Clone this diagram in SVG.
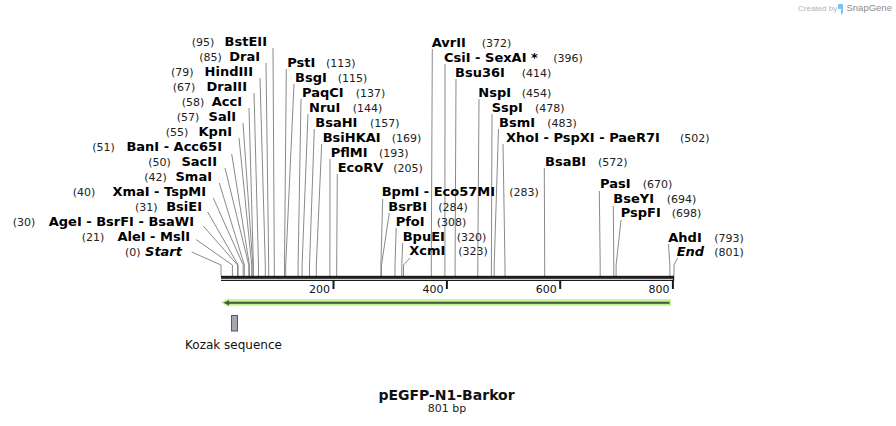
<svg xmlns="http://www.w3.org/2000/svg" width="896" height="426" viewBox="0 0 896 426">
<style>
text{font-family:"DejaVu Sans",Verdana,sans-serif;fill:#000}
.b{font-size:13px;font-weight:bold}
.i{font-style:italic}
.n{font-size:11px;fill:#222}
.t{font-size:11px;fill:#111}
.c polyline{fill:none;stroke:#8a8a8a;stroke-width:1}
</style>
<rect width="896" height="426" fill="#fff"/>
<g id="credit">
<text x="798" y="11" style="font-family:'Liberation Sans',Arial,sans-serif;font-size:8px;fill:#b4b4b4">Created by</text>
<path d="M838 4 h5 v9 l-2 2 v-6 h-3 z" fill="#7cc4ef"/>
<text x="846.5" y="11" style="font-family:'Liberation Sans',Arial,sans-serif;font-size:9.5px;fill:#8c8c8c">SnapGene</text>
</g>
<g id="connectors" class="c">
<polyline points="273,48 274.3,265 274.3,276"/>
<polyline points="266,63 268.7,265 268.7,276"/>
<polyline points="260,78 265.3,265 265.3,276"/>
<polyline points="254,93 258.5,265 258.5,276"/>
<polyline points="249,108 253.4,265 253.4,276"/>
<polyline points="243,123 252.8,265 252.8,276"/>
<polyline points="239,138 251.7,265 251.7,276"/>
<polyline points="231.7,154 249.4,265 249.4,276"/>
<polyline points="225,168 248.8,265 248.8,276"/>
<polyline points="219.3,183 244.3,265 244.3,276"/>
<polyline points="213.3,198 243.2,265 243.2,276"/>
<polyline points="207.7,212 238.1,265 238.1,276"/>
<polyline points="203.3,226 237.5,265 237.5,276"/>
<polyline points="196,239.5 232.4,265 232.4,276"/>
<polyline points="191.7,252 221,265 221,276"/>
<polyline points="286.3,69 284.5,265 284.5,276"/>
<polyline points="294,84 285.7,265 285.7,276"/>
<polyline points="301,99 298.1,265 298.1,276"/>
<polyline points="308,114 302.1,265 302.1,276"/>
<polyline points="314.3,129 309.5,265 309.5,276"/>
<polyline points="321.7,144 316.3,265 316.3,276"/>
<polyline points="330,159 329.9,265 329.9,276"/>
<polyline points="337.3,174 336.7,265 336.7,276"/>
<polyline points="382.7,199 380.9,265 380.9,276"/>
<polyline points="389.3,213 381.5,265 381.5,276"/>
<polyline points="396.2,228 395,265 395,276"/>
<polyline points="402.7,243 401.8,265 401.8,276"/>
<polyline points="410,258 403.5,265 403.5,276"/>
<polyline points="432.3,49 431.3,265 431.3,276"/>
<polyline points="445,64 444.9,265 444.9,276"/>
<polyline points="456,79 455.1,265 455.1,276"/>
<polyline points="479,99 477.8,265 477.8,276"/>
<polyline points="492,114 491.4,265 491.4,276"/>
<polyline points="498.5,129 494.2,265 494.2,276"/>
<polyline points="503,144 505,265 505,276"/>
<polyline points="544.3,168 544.7,265 544.7,276"/>
<polyline points="599.3,191 600.2,265 600.2,276"/>
<polyline points="613.3,206 613.8,265 613.8,276"/>
<polyline points="621,220 616.1,265 616.1,276"/>
<polyline points="668.5,244 669.9,265 669.9,276"/>
<polyline points="677.5,258 674,265 674,276"/>
</g>
<g id="axis">
<rect x="221" y="275.8" width="453" height="3" fill="#1c1c1c"/>
<rect x="221" y="279.8" width="453" height="1.2" fill="#1c1c1c"/>
<rect x="672.8" y="275.8" width="1.4" height="5" fill="#1c1c1c"/>
<rect x="332.5" y="280" width="2" height="9" fill="#1c1c1c"/>
<rect x="445.9" y="280" width="2" height="9" fill="#1c1c1c"/>
<rect x="559.2" y="280" width="2" height="9" fill="#1c1c1c"/>
<rect x="671.9" y="280" width="2" height="9" fill="#1c1c1c"/>
<text class="t" x="330" y="293" text-anchor="end">200</text>
<text class="t" x="443.4" y="293" text-anchor="end">400</text>
<text class="t" x="556.7" y="293" text-anchor="end">600</text>
<text class="t" x="669.4" y="293" text-anchor="end">800</text>
</g>
<g id="feature-arrow">
<polygon points="221,302.5 229,298 229,299.3 671,299.3 671,305.7 229,305.7 229,307" fill="#b9f28f"/>
<rect x="227" y="301.8" width="442.5" height="2" fill="#48553f"/>
<polygon points="223.5,302.8 229,300.2 229,305.4" fill="#48553f"/>
</g>
<g id="kozak">
<rect x="231.5" y="315.5" width="6" height="15.5" fill="#a3a7ae" stroke="#55585d" stroke-width="1"/>
<text x="233.5" y="349" text-anchor="middle" style="font-size:12px;fill:#111">Kozak sequence</text>
</g>
<g id="title">
<text x="446.5" y="399.5" text-anchor="middle" style="font-size:14px;font-weight:bold;fill:#111">pEGFP-N1-Barkor</text>
<text x="447" y="411.5" text-anchor="middle" style="font-size:11px;fill:#222">801 bp</text>
</g>
<g id="BstEII"><text class="n" x="191.7" y="46">(95)</text><text class="b" x="267" y="46" text-anchor="end">BstEII</text></g>
<g id="DraI"><text class="n" x="199.3" y="61">(85)</text><text class="b" x="260" y="61" text-anchor="end">DraI</text></g>
<g id="HindIII"><text class="n" x="171" y="76">(79)</text><text class="b" x="253" y="76" text-anchor="end">HindIII</text></g>
<g id="DraIII"><text class="n" x="172.7" y="91">(67)</text><text class="b" x="247" y="91" text-anchor="end">DraIII</text></g>
<g id="AccI"><text class="n" x="181.7" y="106">(58)</text><text class="b" x="242" y="106" text-anchor="end">AccI</text></g>
<g id="SalI"><text class="n" x="176.7" y="121">(57)</text><text class="b" x="236" y="121" text-anchor="end">SalI</text></g>
<g id="KpnI"><text class="n" x="165.7" y="136">(55)</text><text class="b" x="232" y="136" text-anchor="end">KpnI</text></g>
<g id="BanI"><text class="n" x="92.3" y="151">(51)</text><text class="b" x="222" y="151" text-anchor="end">BanI - Acc65I</text></g>
<g id="SacII"><text class="n" x="148.3" y="166">(50)</text><text class="b" x="217" y="166" text-anchor="end">SacII</text></g>
<g id="SmaI"><text class="n" x="144.3" y="181">(42)</text><text class="b" x="212" y="181" text-anchor="end">SmaI</text></g>
<g id="XmaI"><text class="n" x="72.7" y="196">(40)</text><text class="b" x="206" y="196" text-anchor="end">XmaI - TspMI</text></g>
<g id="BsiEI"><text class="n" x="135" y="211">(31)</text><text class="b" x="202" y="211" text-anchor="end">BsiEI</text></g>
<g id="AgeI"><text class="n" x="12.7" y="226">(30)</text><text class="b" x="194" y="226" text-anchor="end">AgeI - BsrFI - BsaWI</text></g>
<g id="AleI"><text class="n" x="81.7" y="241">(21)</text><text class="b" x="190" y="241" text-anchor="end">AleI - MslI</text></g>
<g id="Start"><text class="n" x="125" y="256">(0)</text><text class="b i" x="182" y="256" text-anchor="end">Start</text></g>
<g id="PstI"><text class="b" x="287.3" y="67.3">PstI</text><text class="n" x="326" y="67.3">(113)</text></g>
<g id="BsgI"><text class="b" x="295" y="82.3">BsgI</text><text class="n" x="337.7" y="82.3">(115)</text></g>
<g id="PaqCI"><text class="b" x="302" y="97.3">PaqCI</text><text class="n" x="355.7" y="97.3">(137)</text></g>
<g id="NruI"><text class="b" x="309" y="112.3">NruI</text><text class="n" x="352.7" y="112.3">(144)</text></g>
<g id="BsaHI"><text class="b" x="315.3" y="127.3">BsaHI</text><text class="n" x="370" y="127.3">(157)</text></g>
<g id="BsiHKAI"><text class="b" x="322.7" y="142.3">BsiHKAI</text><text class="n" x="391.7" y="142.3">(169)</text></g>
<g id="PflMI"><text class="b" x="330.7" y="157.3">PflMI</text><text class="n" x="379" y="157.3">(193)</text></g>
<g id="EcoRV"><text class="b" x="337.7" y="172.3">EcoRV</text><text class="n" x="393.3" y="172.3">(205)</text></g>
<g id="BpmI"><text class="b" x="381.7" y="196">BpmI - Eco57MI</text><text class="n" x="509.3" y="196">(283)</text></g>
<g id="BsrBI"><text class="b" x="388.3" y="210.8">BsrBI</text><text class="n" x="438.3" y="210.8">(284)</text></g>
<g id="PfoI"><text class="b" x="395.7" y="225.6">PfoI</text><text class="n" x="436.7" y="225.6">(308)</text></g>
<g id="BpuEI"><text class="b" x="402.7" y="240.5">BpuEI</text><text class="n" x="456.7" y="240.5">(320)</text></g>
<g id="XcmI"><text class="b" x="409.3" y="255.2">XcmI</text><text class="n" x="458.3" y="255.2">(323)</text></g>
<g id="AvrII"><text class="b" x="431.7" y="46.7">AvrII</text><text class="n" x="481.7" y="46.7">(372)</text></g>
<g id="CsiI"><text class="b" x="444" y="61.7">CsiI - SexAI *</text><text class="n" x="553.3" y="61.7">(396)</text></g>
<g id="Bsu36I"><text class="b" x="455" y="76.7">Bsu36I</text><text class="n" x="521.7" y="76.7">(414)</text></g>
<g id="NspI"><text class="b" x="478.3" y="96.7">NspI</text><text class="n" x="521.7" y="96.7">(454)</text></g>
<g id="SspI"><text class="b" x="491.7" y="111.7">SspI</text><text class="n" x="535" y="111.7">(478)</text></g>
<g id="BsmI"><text class="b" x="499" y="126.7">BsmI</text><text class="n" x="547.3" y="126.7">(483)</text></g>
<g id="XhoI"><text class="b" x="506" y="141.7">XhoI - PspXI - PaeR7I</text><text class="n" x="680" y="141.7">(502)</text></g>
<g id="BsaBI"><text class="b" x="545" y="165.5">BsaBI</text><text class="n" x="598" y="165.5">(572)</text></g>
<g id="PasI"><text class="b" x="600" y="188.3">PasI</text><text class="n" x="642.7" y="188.3">(670)</text></g>
<g id="BseYI"><text class="b" x="613.3" y="203.3">BseYI</text><text class="n" x="666.7" y="203.3">(694)</text></g>
<g id="PspFI"><text class="b" x="620.7" y="217.3">PspFI</text><text class="n" x="671.7" y="217.3">(698)</text></g>
<g id="AhdI"><text class="b" x="668.3" y="241.7">AhdI</text><text class="n" x="714.3" y="241.7">(793)</text></g>
<g id="End"><text class="b i" x="676.7" y="256">End</text><text class="n" x="714.3" y="256">(801)</text></g>
</svg>
